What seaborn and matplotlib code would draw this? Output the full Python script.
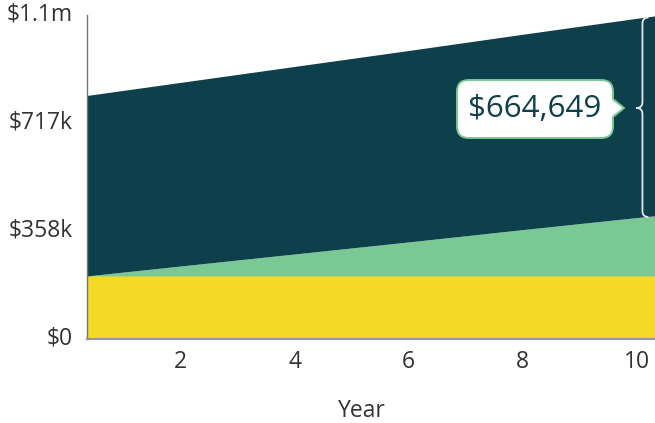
import numpy as np
import pandas as pd
import matplotlib
matplotlib.use("Agg")
import matplotlib.pyplot as plt
import matplotlib.transforms as mtransforms
import seaborn as sns
from matplotlib.path import Path
from matplotlib.patches import PathPatch, FancyBboxPatch, Polygon

# ---- data ----
years = [0.36, 2, 4, 6, 8, 10, 10.32]
base_values = [208000, 208000, 208000, 208000, 208000, 208000, 208000]      # yellow
growth_values = [0, 33000, 73000, 113000, 154000, 194000, 200000]            # light green
gain_values = [600000, 610500, 623500, 636500, 649500, 662500, 664649]       # dark teal
y_ticks = [0, 358500, 717000, 1075500]
y_tick_labels = ["$0", "$358k", "$717k", "$1.1m"]
x_ticks = [2, 4, 6, 8, 10]
x_label = "Year"
callout_text = "$664,649"
brace_year = 10.1

# ---- style ----
DARK = "#0e404b"
GREEN = "#7ac893"
YELLOW = "#f5da25"
TEXT = "#333333"

sns.set_theme(style="white")
plt.rcParams["font.family"] = ["Open Sans", "DejaVu Sans"]

W, H = 655, 423
fig = plt.figure(figsize=(W / 100, H / 100), dpi=100)
ax = fig.add_axes([87 / W, 1 - 338.5 / H, (655 - 87) / W, (338.5 - 15) / H])

df = pd.DataFrame({"year": years, "base": base_values,
                   "growth": growth_values, "gain": gain_values})

ax.stackplot(df["year"], df["base"], df["growth"], df["gain"],
             colors=[YELLOW, GREEN, DARK], linewidth=0)

ax.set_xlim(years[0], years[-1])
ax.set_ylim(0, y_ticks[-1])
ax.set_xticks(x_ticks)
ax.set_xticklabels([str(t) for t in x_ticks])
ax.set_yticks(y_ticks)
ax.set_yticklabels(y_tick_labels)
ax.tick_params(axis="both", length=0, labelsize=16.5, colors=TEXT)
ax.tick_params(axis="y", pad=10)
ax.tick_params(axis="x", pad=8)
ax.grid(False)
shift_up = mtransforms.ScaledTranslation(0, 3 / 100, fig.dpi_scale_trans)
for lbl in ax.get_yticklabels():
    lbl.set_transform(lbl.get_transform() + shift_up)
sns.despine(ax=ax, top=True, right=True)
ax.spines["left"].set_color("#777777")
ax.spines["left"].set_linewidth(1.0)
ax.spines["bottom"].set_color("#999999")
ax.spines["bottom"].set_linewidth(1.6)
ax.spines["left"].set_zorder(5)
ax.spines["bottom"].set_zorder(5)

fig.text(362 / W, 1 - 411 / H, x_label, ha="center", va="center",
         fontsize=16.5, color=TEXT)

# ---- brace (in display pixels) ----
total = df["base"] + df["growth"] + df["gain"]
lower = df["base"] + df["growth"]
top_val = np.interp(brace_year, df["year"], total)
bot_val = np.interp(brace_year, df["year"], lower)
xb, yt = ax.transData.transform((brace_year, top_val))
_, yb = ax.transData.transform((brace_year, bot_val))
ym = H - 108
r = 6
verts = [(xb + r, yt), (xb, yt), (xb, yt - r),
         (xb, ym + r), (xb, ym), (xb - r, ym),
         (xb, ym), (xb, ym - r),
         (xb, yb + r), (xb, yb), (xb + r, yb)]
codes = [Path.MOVETO, Path.CURVE3, Path.CURVE3,
         Path.LINETO, Path.CURVE3, Path.CURVE3,
         Path.CURVE3, Path.CURVE3,
         Path.LINETO, Path.CURVE3, Path.CURVE3]
inv = fig.transFigure.inverted()
verts_fig = [tuple(inv.transform((vx, vy))) for vx, vy in verts]
fig.add_artist(PathPatch(Path(verts_fig, codes), facecolor="none",
                         edgecolor="#e6e6e6", linewidth=1.3,
                         transform=fig.transFigure, zorder=10))

# ---- callout box ----
def fp(x, y_top):
    return (x / W, 1 - y_top / H)

bx0, by0, bx1, by1 = 457, 80, 613, 138
box = FancyBboxPatch(fp(bx0, by1), (bx1 - bx0) / W, (by1 - by0) / H,
                     boxstyle="round,pad=0,rounding_size=0.018",
                     facecolor="white", edgecolor=GREEN, linewidth=1.4,
                     transform=fig.transFigure, zorder=11,
                     mutation_aspect=W / H)
fig.add_artist(box)
tri_fill = Polygon([fp(bx1 - 2, 99), fp(624, 108), fp(bx1 - 2, 117)],
                   closed=True, facecolor="white", edgecolor="none",
                   transform=fig.transFigure, zorder=12)
fig.add_artist(tri_fill)
tri_edge = Path([fp(bx1, 99), fp(624, 108), fp(bx1, 117)],
                [Path.MOVETO, Path.LINETO, Path.LINETO])
fig.add_artist(PathPatch(tri_edge, facecolor="none", edgecolor=GREEN,
                         linewidth=1.4, transform=fig.transFigure, zorder=13))
fig.text((bx0 + bx1) / 2 / W, 1 - 109 / H, callout_text, ha="center",
         va="center", fontsize=22.5, color=DARK, zorder=14)

fig.savefig("out.png", dpi=100)
